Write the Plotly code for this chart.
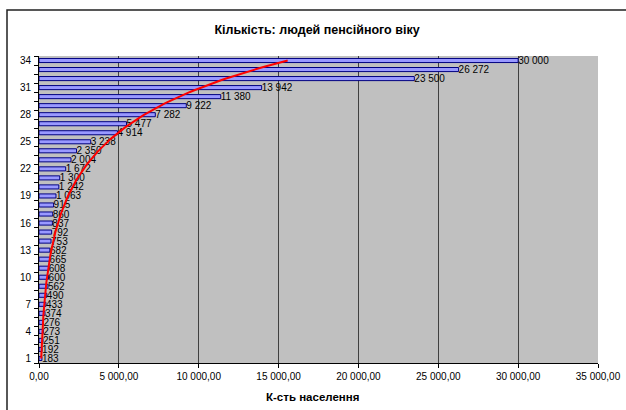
import numpy as np
import plotly.graph_objects as go

categories = list(range(1, 35))
values = [183, 192, 251, 273, 276, 374, 433, 490, 562, 600, 608, 665, 682, 753,
          792, 837, 860, 915, 1063, 1242, 1300, 1672, 2004, 2350, 3238, 4914,
          5477, 7282, 9222, 11380, 13942, 23500, 26272, 30000]
ytick_vals = list(range(1, 35, 3))
ytick_text = [str(v) for v in ytick_vals]
title_text = "Кількість: людей пенсійного віку"
xaxis_title = "К-сть населення"

labels = [f"{v:,}".replace(",", " ") for v in values]

# Exponential trendline (least squares on log values)
b, ln_a = np.polyfit(categories, np.log(values), 1)
yy = np.linspace(categories[0], categories[-1], 200)
xx = np.exp(ln_a + b * yy)

FONT = "Arial, Liberation Sans, sans-serif"
PL, PT, PW, PH = 39, 56, 559, 307  # plot area in pixels

fig = go.Figure()
fig.add_trace(go.Bar(
    y=categories, x=values, orientation="h", width=0.45,
    marker=dict(color="#9999FF", line=dict(color="#000080", width=1)),
    text=labels, textposition="outside", constraintext="none",
    textfont=dict(family=FONT, size=10, color="#000000"),
    cliponaxis=False, showlegend=False, hoverinfo="x+y",
))
fig.add_trace(go.Scatter(
    x=xx, y=yy, mode="lines", line=dict(color="#FF0000", width=2),
    showlegend=False, hoverinfo="skip",
))

fig.update_layout(
    width=626, height=410, autosize=False,
    margin=dict(l=PL, r=626 - PL - PW, t=PT, b=410 - PT - PH, autoexpand=False),
    paper_bgcolor="#FFFFFF", plot_bgcolor="#C0C0C0",
    separators=", ",
    font=dict(family=FONT, size=10, color="#000000"),
    title=dict(text="<b>" + title_text + "</b>", x=317 / 626, xanchor="center",
               y=1 - 30 / 410, yanchor="middle",
               font=dict(family=FONT, size=12.5, color="#000000")),
    xaxis=dict(range=[0, 35000], dtick=5000, tickformat=",.2f",
               showgrid=True, gridcolor="#404040", gridwidth=1,
               showline=True, linecolor="#000000", linewidth=1,
               ticks="outside", ticklen=4, tickcolor="#000000",
               zeroline=False, automargin=False,
               tickfont=dict(family=FONT, size=10)),
    yaxis=dict(range=[0.5, 34.5], tickmode="array", tickvals=ytick_vals,
               ticktext=ytick_text, showgrid=False, zeroline=False,
               showline=True, linecolor="#000000", linewidth=1,
               automargin=False,
               ticks="outside", ticklen=5, tickcolor="rgba(0,0,0,0)",
               minor=dict(tickmode="array",
                          tickvals=[c - 0.5 for c in categories] + [34.5],
                          ticks="outside", ticklen=4, tickcolor="#000000",
                          showgrid=False),
               tickfont=dict(family=FONT, size=10)),
    annotations=[dict(text="<b>" + xaxis_title + "</b>", xref="paper", yref="paper",
                      x=(312 - PL) / PW, y=(PT + PH - 397) / PH,
                      xanchor="center", yanchor="middle", showarrow=False,
                      font=dict(family=FONT, size=11.5, color="#000000"))],
    shapes=[dict(type="rect", xref="paper", yref="paper",
                 x0=(7 - PL) / PW, x1=1.5, y0=-0.6, y1=(PT + PH - 10) / PH,
                 line=dict(color="#202020", width=1.5), layer="below")],
)

fig.write_html("out.html",
               config={"responsive": False, "displayModeBar": False},
               post_script="document.body.style.margin='0px';document.body.style.overflow='hidden';")
